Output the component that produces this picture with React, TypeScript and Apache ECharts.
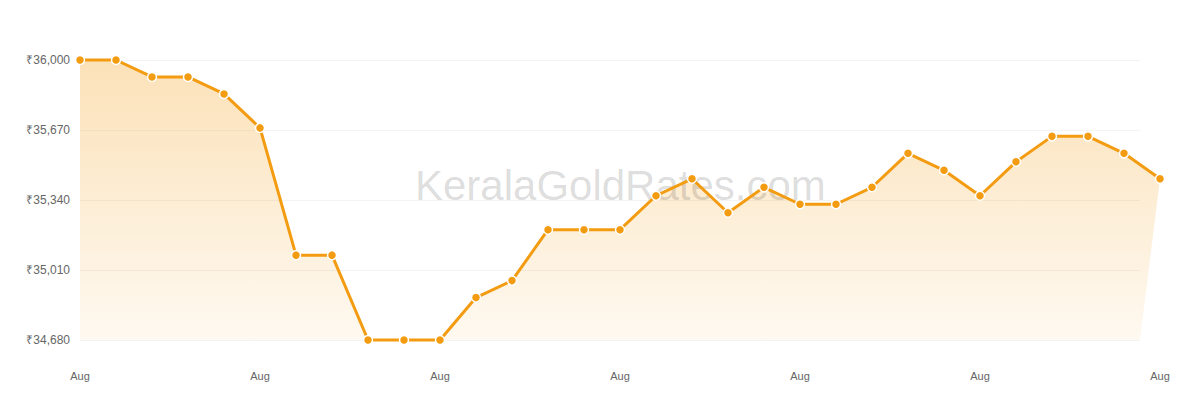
import React, { useEffect, useRef } from "react";
import * as echarts from "echarts";

const dates: string[] = Array.from({ length: 31 }, () => "Aug");
const prices: number[] = [
  36000, 36000, 35920, 35920, 35840, 35680, 35080, 35080, 34680, 34680, 34680,
  34880, 34960, 35200, 35200, 35200, 35360, 35440, 35280, 35400, 35320, 35320,
  35400, 35560, 35480, 35360, 35520, 35640, 35640, 35560, 35440,
];
const yMin = 34680;
const yMax = 36000;
const yStep = 330;

const LINE = "#f39c12";
const GRID_LEFT = 80;
const GRID_TOP = 60;
const GRID_BOTTOM = 60;
const GRID_RIGHT = 40;
const GRIDLINE_RIGHT = 60;

export default function App() {
  const ref = useRef<HTMLDivElement>(null);
  useEffect(() => {
    document.body.style.margin = "0";
    const chart = echarts.init(ref.current!, null, { renderer: "svg" });
    const fmt = (v: number) => "₹" + v.toLocaleString("en-US");
    chart.setOption({
      animation: false,
      textStyle: { fontFamily: "Liberation Sans, Arial, sans-serif" },
      grid: [
        { left: GRID_LEFT, right: GRID_RIGHT, top: GRID_TOP, bottom: GRID_BOTTOM },
        { left: GRID_LEFT, right: GRIDLINE_RIGHT, top: GRID_TOP, bottom: GRID_BOTTOM },
      ],
      xAxis: [
        {
          type: "category",
          gridIndex: 0,
          data: dates,
          boundaryGap: false,
          axisLine: { show: false },
          axisTick: { show: false },
          axisLabel: { interval: 4, color: "#666", fontSize: 11, margin: 30 },
          splitLine: { show: false },
        },
        {
          type: "category",
          gridIndex: 1,
          data: dates,
          boundaryGap: false,
          show: false,
        },
      ],
      yAxis: [
        {
          type: "value",
          gridIndex: 0,
          min: yMin,
          max: yMax,
          interval: yStep,
          axisLine: { show: false },
          axisTick: { show: false },
          axisLabel: { color: "#666", fontSize: 12, margin: 10, formatter: fmt },
          splitLine: { show: false },
        },
        {
          type: "value",
          gridIndex: 1,
          min: yMin,
          max: yMax,
          interval: yStep,
          axisLine: { show: false },
          axisTick: { show: false },
          axisLabel: { show: false },
          splitLine: { show: true, lineStyle: { color: "#f3f3f3", width: 1 } },
        },
      ],
      graphic: [
        {
          type: "text",
          left: 415,
          top: 164,
          z: 2,
          silent: true,
          style: {
            text: "KeralaGoldRates.com",
            font: "42px 'Liberation Sans', Arial, sans-serif",
            fill: "rgba(0,0,0,0.15)",
          },
        },
      ],
      series: [
        {
          type: "custom",
          xAxisIndex: 0,
          yAxisIndex: 0,
          z: 1,
          silent: true,
          data: [0],
          renderItem: (params: any, api: any) => {
            const cs = params.coordSys;
            const pts = prices.map((v, i) => api.coord([i, v]));
            const bottom = cs.y + cs.height;
            pts.push([cs.x + cs.width - (GRIDLINE_RIGHT - GRID_RIGHT), bottom]);
            pts.push([pts[0][0], bottom]);
            return {
              type: "polygon",
              shape: { points: pts },
              style: {
                fill: new echarts.graphic.LinearGradient(0, 0, 0, 1, [
                  { offset: 0, color: "rgba(243,156,18,0.3)" },
                  { offset: 1, color: "rgba(243,156,18,0.06)" },
                ]),
              },
            };
          },
        },
        {
          type: "line",
          xAxisIndex: 0,
          yAxisIndex: 0,
          z: 5,
          data: prices,
          showAllSymbol: true,
          symbol: "circle",
          symbolSize: 9,
          lineStyle: { color: LINE, width: 3 },
          itemStyle: { color: LINE, borderColor: "#fff", borderWidth: 1.5 },
          clip: false,
        },
      ],
    });
    return () => chart.dispose();
  }, []);
  return <div ref={ref} style={{ width: 1200, height: 400 }} />;
}
